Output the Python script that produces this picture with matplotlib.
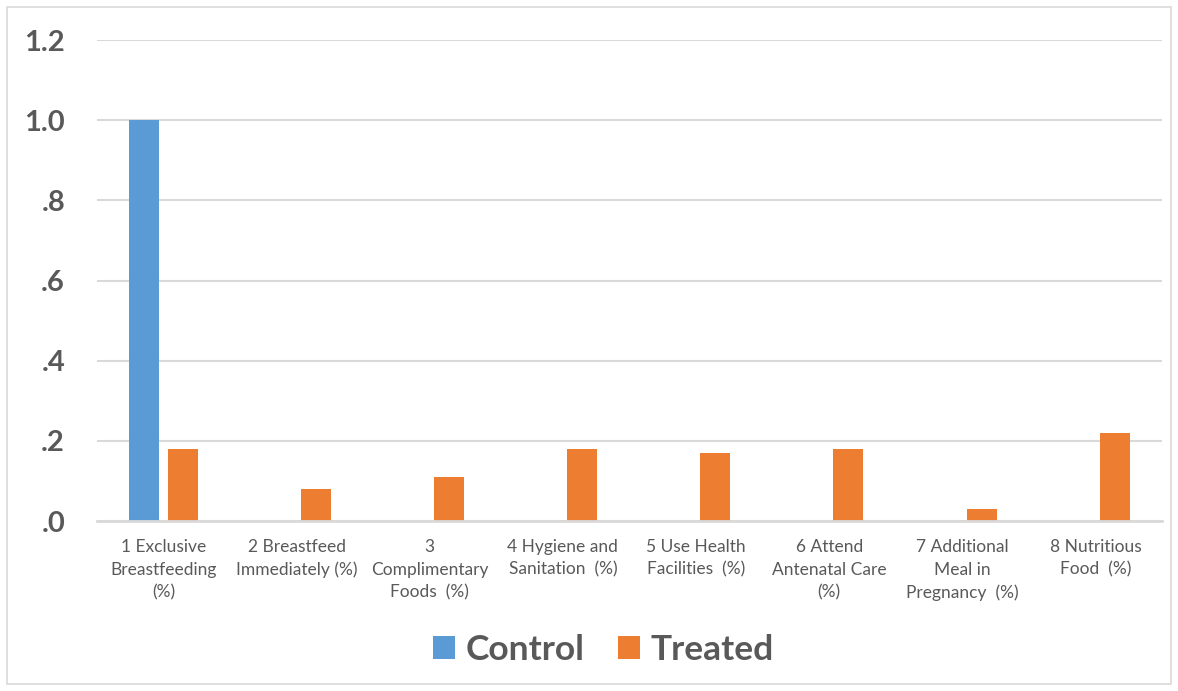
import numpy as np
import matplotlib.pyplot as plt
from matplotlib.patches import Rectangle

plt.rcParams['font.family'] = ['Lato', 'DejaVu Sans']

categories = [
    "1 Exclusive\nBreastfeeding\n(%)",
    "2 Breastfeed\nImmediately (%)",
    "3\nComplimentary\nFoods  (%)",
    "4 Hygiene and\nSanitation  (%)",
    "5 Use Health\nFacilities  (%)",
    "6 Attend\nAntenatal Care\n(%)",
    "7 Additional\nMeal in\nPregnancy  (%)",
    "8 Nutritious\nFood  (%)",
]
control = [1.0, 0, 0, 0, 0, 0, 0, 0]
treated = [0.18, 0.08, 0.11, 0.18, 0.17, 0.18, 0.03, 0.22]
yticks = [0, 0.2, 0.4, 0.6, 0.8, 1.0, 1.2]
ytick_labels = [".0", ".2", ".4", ".6", ".8", "1.0", "1.2"]

blue = "#5B9BD5"
orange = "#ED7D31"
grey_text = "#595959"
grid_col = "#D9D9D9"

fig = plt.figure(figsize=(11.78, 6.91), dpi=100)
ax = fig.add_axes([0.0823, 0.246, 0.9041, 0.696])

x = np.arange(len(categories))
w = 0.225
ax.bar(x - 0.148, control, w, color=blue, label="Control", zorder=3)
ax.bar(x + 0.145, treated, w, color=orange, label="Treated", zorder=3)

ax.set_xlim(-0.5, len(categories) - 0.5)
ax.set_ylim(0, 1.2)
ax.set_yticks(yticks)
ax.set_yticklabels(ytick_labels, fontsize=21, fontweight="bold", color=grey_text)
ax.set_xticks(x)
ax.set_xticklabels(categories, fontsize=12.5, color=grey_text, linespacing=1.5,
                   va="top")
ax.tick_params(axis="both", length=0)
ax.tick_params(axis="y", pad=23)
ax.tick_params(axis="x", pad=13)

ax.grid(axis="y", color=grid_col, linewidth=1.5, zorder=0)
for side in ["top", "right", "left"]:
    ax.spines[side].set_visible(False)
ax.spines["bottom"].set_color(grid_col)
ax.spines["bottom"].set_linewidth(2)
ax.spines["bottom"].set_zorder(4)

leg = fig.legend(loc="center", bbox_to_anchor=(0.512, 0.059), ncol=2,
                 frameon=False, handlelength=0.62, handleheight=0.62,
                 handletextpad=0.3, columnspacing=0.95,
                 prop={"size": 25.5, "weight": "bold"})
for t in leg.get_texts():
    t.set_color(grey_text)

# outer chart frame
fig.patches.append(Rectangle((0.006, 0.01), 0.988, 0.98, transform=fig.transFigure,
                             fill=False, edgecolor=grid_col, linewidth=1.2))

fig.savefig("out.png", dpi=100)
